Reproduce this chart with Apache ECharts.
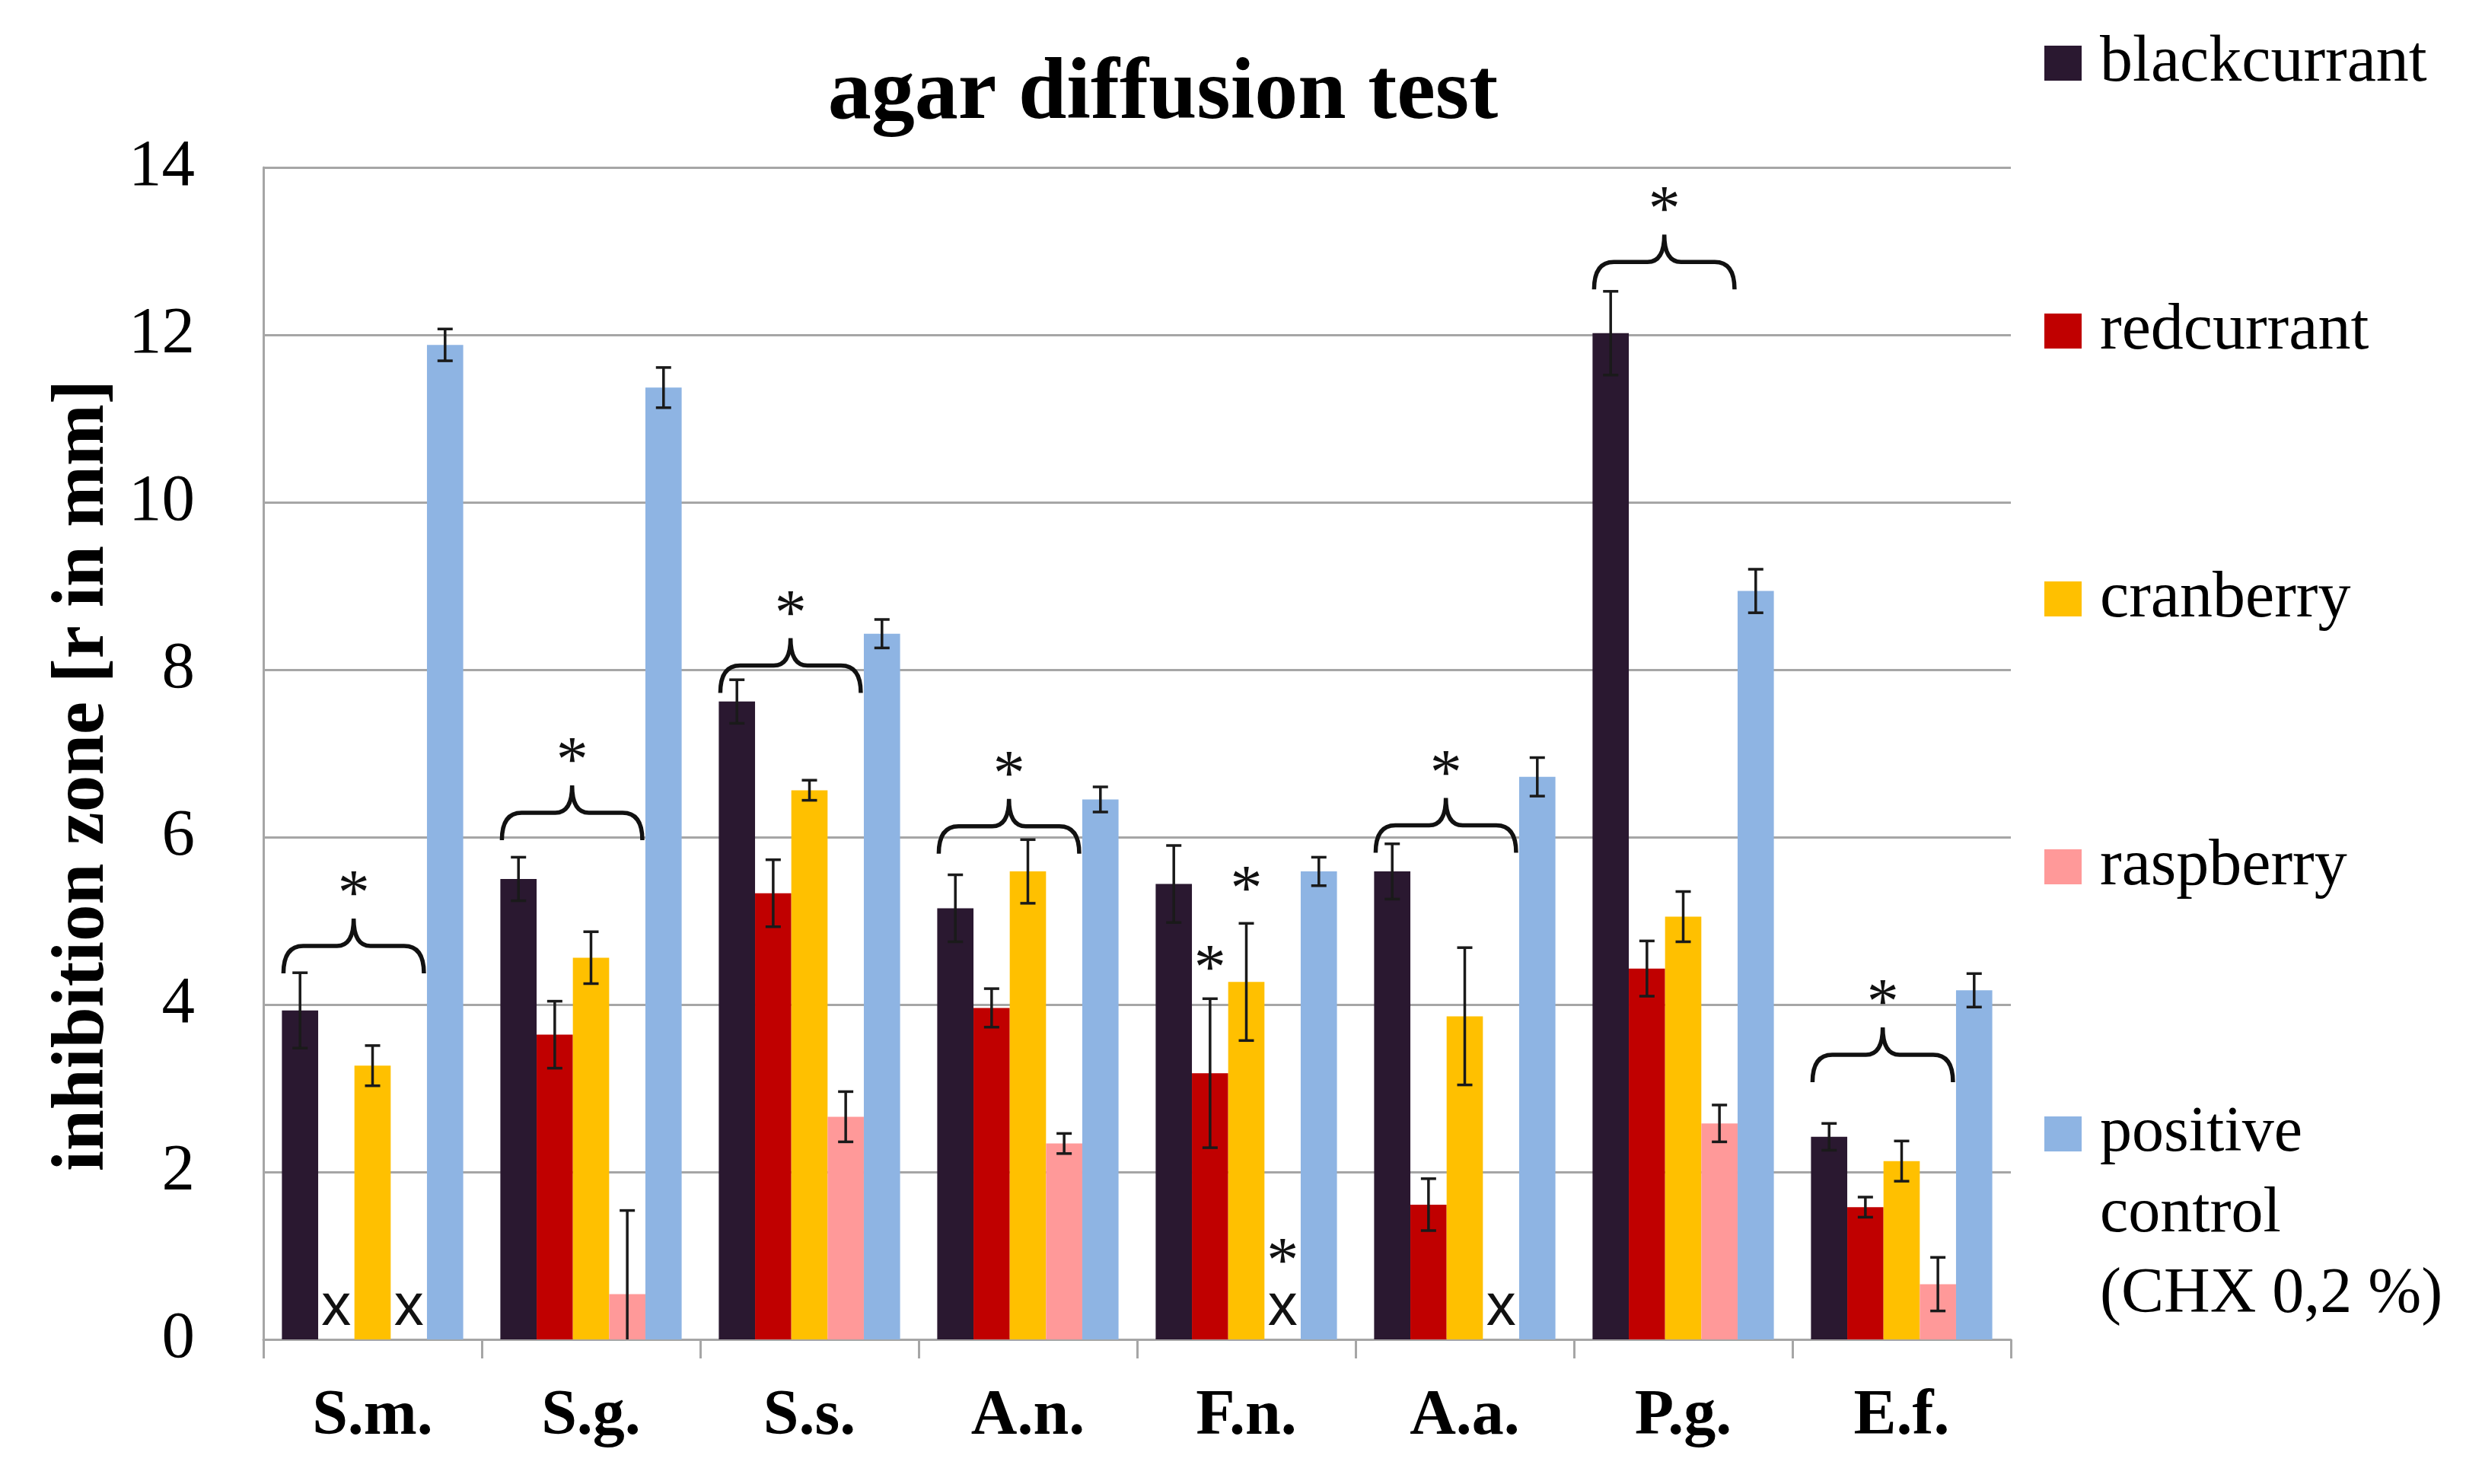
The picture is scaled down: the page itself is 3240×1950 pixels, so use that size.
<!DOCTYPE html>
<html lang="en">
<head>
    <meta charset="UTF-8">
    <title>agar diffusion test</title>
    <script type="text/javascript" src="https://cdn.jsdelivr.net/npm/echarts@6/dist/echarts.min.js"></script>
    <style>
        body { margin: 0; background: #fff; }
        #main { width: 3240px; height: 1950px; }
    </style>
</head>
<body>
<div id="main"></div>
<script type="text/javascript">
    // bacteria (x categories) and y ticks
    var categories = ['S.m.', 'S.g.', 'S.s.', 'A.n.', 'F.n.', 'A.a.', 'P.g.', 'E.f.'];
    var yTicks = [0, 2, 4, 6, 8, 10, 12, 14];

    // mean inhibition zone per extract, and the error (+/-)
    var blackcurrant = [3.93, 5.50, 7.62, 5.15, 5.44, 5.59, 12.02, 2.42];
    var blackErr     = [0.45, 0.26, 0.26, 0.40, 0.46, 0.33, 0.50, 0.16];
    var redcurrant   = [0, 3.64, 5.33, 3.96, 3.18, 1.61, 4.43, 1.58];
    var redErr       = [0, 0.40, 0.40, 0.23, 0.89, 0.31, 0.33, 0.12];
    var cranberry    = [3.27, 4.56, 6.56, 5.59, 4.27, 3.86, 5.05, 2.13];
    var cranErr      = [0.24, 0.31, 0.12, 0.38, 0.70, 0.82, 0.30, 0.24];
    var raspberry    = [0, 0.54, 2.66, 2.34, 0, 0, 2.58, 0.66];
    var raspErr      = [0, 1.00, 0.30, 0.12, 0, 0, 0.22, 0.32];
    var control      = [11.88, 11.37, 8.43, 6.45, 5.59, 6.72, 8.94, 4.17];
    var controlErr   = [0.19, 0.24, 0.17, 0.15, 0.17, 0.23, 0.26, 0.20];

    // brace over bars 0..3 of a category: [category, value at the brace line]
    var braces = [[0, 4.70], [1, 6.29], [2, 8.05], [3, 6.13], [5, 6.14], [6, 12.87], [7, 3.40]];
    // single stars: [category, series, value]
    var stars = [[4, 1, 4.50], [4, 2, 5.45], [4, 3, 1.00]];
    // "x" = no inhibition: [category, series]
    var crosses = [[0, 1], [0, 3], [4, 3], [5, 3]];

    var names = ['blackcurrant', 'redcurrant', 'cranberry', 'raspberry', 'positive control'];
    var colors = ['#2A1830', '#C00000', '#FFC000', '#FF9999', '#8EB4E3'];
    var values = [blackcurrant, redcurrant, cranberry, raspberry, control];
    var errors = [blackErr, redErr, cranErr, raspErr, controlErr];

    var SERIF = '"Liberation Serif", "Times New Roman", serif';
    var GAP = 0.17;
    var NS = 5;

    // centre x of bar s in category cat (same layout as the bar series)
    function slot(api, cat, s) {
        var band = api.size([1, 0])[0];
        var groupW = band * (1 - GAP);
        var bw = groupW / NS;
        var c = api.coord([cat, 0])[0];
        return {x: c - groupW / 2 + bw * (s + 0.5), bw: bw};
    }

    var errData = [];
    for (var s = 0; s < NS; s++) {
        for (var i = 0; i < categories.length; i++) {
            if (values[s][i] > 0 && errors[s][i] > 0) {
                errData.push([i, s, values[s][i], errors[s][i]]);
            }
        }
    }

    var series = [];
    for (var k = 0; k < NS; k++) {
        series.push({
            name: names[k],
            type: 'bar',
            barGap: '0%',
            barCategoryGap: (GAP * 100) + '%',
            itemStyle: {color: colors[k]},
            data: values[k],
            z: 2
        });
    }

    // error bars
    series.push({
        type: 'custom',
        encode: {x: 0, y: 2},
        z: 5,
        silent: true,
        data: errData,
        renderItem: function (params, api) {
            var cat = api.value(0), s = api.value(1), v = api.value(2), e = api.value(3);
            var p = slot(api, cat, s);
            var yTop = api.coord([cat, v + e])[1];
            var low = v - e;
            var yBot = api.coord([cat, Math.max(0, low)])[1];
            var cap = 10;
            var st = {stroke: '#1a1a1a', lineWidth: 3.5};
            var kids = [
                {type: 'line', shape: {x1: p.x, y1: yTop, x2: p.x, y2: yBot}, style: st},
                {type: 'line', shape: {x1: p.x - cap, y1: yTop, x2: p.x + cap, y2: yTop}, style: st}
            ];
            if (low > 0) {
                kids.push({type: 'line', shape: {x1: p.x - cap, y1: yBot, x2: p.x + cap, y2: yBot}, style: st});
            }
            return {type: 'group', children: kids};
        }
    });

    // braces with a star
    series.push({
        type: 'custom',
        encode: {x: 0, y: 1},
        z: 6,
        silent: true,
        data: braces,
        renderItem: function (params, api) {
            var cat = api.value(0), v = api.value(1);
            var a = slot(api, cat, 0), b = slot(api, cat, 3);
            var xL = a.x - a.bw / 2 + 2, xR = b.x + b.bw / 2 - 4, xM = (xL + xR) / 2;
            var yF = api.coord([cat, v])[1];
            var h = 36;
            var d = 'M' + xL + ' ' + (yF + h) +
                ' Q' + xL + ' ' + yF + ' ' + (xL + 26) + ' ' + yF +
                ' L' + (xM - 22) + ' ' + yF +
                ' Q' + xM + ' ' + yF + ' ' + xM + ' ' + (yF - h) +
                ' Q' + xM + ' ' + yF + ' ' + (xM + 22) + ' ' + yF +
                ' L' + (xR - 26) + ' ' + yF +
                ' Q' + xR + ' ' + yF + ' ' + xR + ' ' + (yF + h);
            return {
                type: 'group',
                children: [
                    {type: 'path', shape: {pathData: d}, style: {fill: null, stroke: '#111', lineWidth: 5.5}},
                    {type: 'text', style: {text: '*', x: xM, y: yF - 76 + 12, fill: '#111',
                        font: 'normal 84px ' + SERIF, align: 'center', verticalAlign: 'middle'}}
                ]
            };
        }
    });

    // single stars
    series.push({
        type: 'custom',
        encode: {x: 0, y: 2},
        z: 6,
        silent: true,
        data: stars,
        renderItem: function (params, api) {
            var cat = api.value(0), s = api.value(1), v = api.value(2);
            var p = slot(api, cat, s);
            var y = api.coord([cat, v])[1];
            return {type: 'text', style: {text: '*', x: p.x, y: y + 12, fill: '#111',
                font: 'normal 84px ' + SERIF, align: 'center', verticalAlign: 'middle'}};
        }
    });

    // "x" marks for no inhibition
    series.push({
        type: 'custom',
        encode: {x: 0, y: 1},
        z: 6,
        silent: true,
        data: crosses,
        renderItem: function (params, api) {
            var cat = api.value(0), s = api.value(1);
            var p = slot(api, cat, s);
            var y0 = api.coord([cat, 0])[1];
            return {type: 'text', style: {text: 'x', x: p.x, y: y0 - 41, fill: '#111',
                font: 'normal 78px "Liberation Sans", Arial, sans-serif', align: 'center', verticalAlign: 'middle'}};
        }
    });

    var myChart = echarts.init(document.getElementById('main'), null, {renderer: 'canvas'});
    myChart.setOption({
        animation: false,
        backgroundColor: '#fff',
        title: {
            text: 'agar diffusion test',
            left: 1523,
            top: 64,
            textAlign: 'center',
            textStyle: {fontFamily: SERIF, fontWeight: 'bold', fontSize: 114, color: '#000'}
        },
        legend: [{
            data: names.slice(0, 4),
            orient: 'vertical',
            left: 2686,
            top: 30,
            padding: 0,
            itemWidth: 49,
            itemHeight: 46,
            itemGap: 246,
            selectedMode: false,
            icon: 'rect',
            textStyle: {fontFamily: SERIF, fontSize: 86, color: '#000', lineHeight: 106, padding: [0, 0, 0, 19]}
        }, {
            data: names.slice(4),
            orient: 'vertical',
            left: 2686,
            top: 1225,
            padding: 0,
            itemWidth: 49,
            itemHeight: 46,
            selectedMode: false,
            icon: 'rect',
            // two empty lines on top keep "positive" level with the icon
            formatter: function () { return '\n\npositive\ncontrol\n(CHX 0,2 %)'; },
            textStyle: {fontFamily: SERIF, fontSize: 84, color: '#000', lineHeight: 106, padding: [0, 0, 0, 19]}
        }],
        grid: {left: 346, right: 598, top: 220, bottom: 190, containLabel: false},
        xAxis: {
            type: 'category',
            data: categories,
            boundaryGap: true,
            axisLine: {show: true, lineStyle: {color: '#A6A6A6', width: 3}},
            axisTick: {show: true, interval: 0, length: 25, lineStyle: {color: '#A6A6A6', width: 3}},
            axisLabel: {interval: 0, margin: 60, fontFamily: SERIF, fontWeight: 'bold', fontSize: 84, color: '#000'}
        },
        yAxis: {
            type: 'value',
            min: yTicks[0],
            max: yTicks[yTicks.length - 1],
            interval: yTicks[1] - yTicks[0],
            name: 'inhibition zone [r in mm]',
            nameLocation: 'middle',
            nameGap: 182,
            nameTextStyle: {fontFamily: SERIF, fontWeight: 'bold', fontSize: 97, color: '#000', padding: [0, 58, 0, 0]},
            axisLine: {show: true, lineStyle: {color: '#A6A6A6', width: 3}},
            axisTick: {show: false},
            axisLabel: {margin: 90, fontFamily: SERIF, fontSize: 87, color: '#000'},
            splitLine: {show: true, lineStyle: {color: '#A6A6A6', width: 3}}
        },
        series: series
    });
</script>
</body>
</html>
